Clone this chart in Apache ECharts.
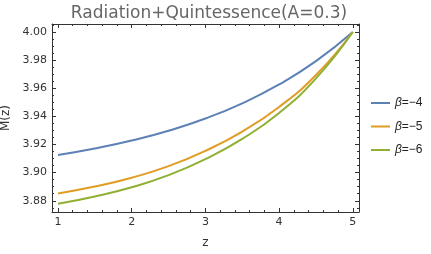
<!DOCTYPE html>
<html><head><meta charset="utf-8">
<script src="https://cdn.jsdelivr.net/npm/echarts@6/dist/echarts.min.js"></script>
<style>html,body{margin:0;padding:0;background:#fff}#c{width:431px;height:254px}</style>
</head><body><div id="c"></div>
<script>
const zValues = [1, 1.5, 2, 2.5, 3, 3.5, 4, 4.5, 5];
const beta4 = [3.9125, 3.9171, 3.9228, 3.9298, 3.9385, 3.9493, 3.9627, 3.9793, 4.0000];
const beta5 = [3.8852, 3.8901, 3.8964, 3.9046, 3.9155, 3.9292, 3.9467, 3.9694, 4.0000];
const beta6 = [3.8778, 3.8830, 3.8896, 3.8982, 3.9096, 3.9240, 3.9424, 3.9670, 4.0000];
const seriesNames = ['β=−4', 'β=−5', 'β=−6'];
const xMajor = [1, 2, 3, 4, 5];
const xMinor = [1.2,1.4,1.6,1.8,2.2,2.4,2.6,2.8,3.2,3.4,3.6,3.8,4.2,4.4,4.6,4.8];
const yMajor = [3.88, 3.90, 3.92, 3.94, 3.96, 3.98, 4.00];
const yMinor = [3.875,3.885,3.89,3.895,3.905,3.91,3.915,3.925,3.93,3.935,3.945,3.95,3.955,3.965,3.97,3.975,3.985,3.99,3.995,4.005];

const colors = ['#5E81B5', '#E19C24', '#8FB032'];
const X0 = 0.919, X1 = 5.084, Y0 = 3.872, Y1 = 4.0057;
const gridRect = {left: 52, right: 72, top: 24, bottom: 42, containLabel: false, outerBoundsMode: 'none'};
const font = 'DejaVu Sans';
function ax(type, gridIndex, pos, ticks, len, showLine, labels) {
  return {
    type: 'value', gridIndex, position: pos,
    min: type === 'x' ? X0 : Y0, max: type === 'x' ? X1 : Y1,
    splitLine: {show: false},
    axisLine: {show: showLine, onZero: false, lineStyle: {color: '#333', width: 1}},
    axisTick: {show: true, inside: true, length: len, customValues: ticks, lineStyle: {color: '#333', width: 1}},
    axisLabel: {show: !!labels, customValues: labels || ticks, color: '#333', fontFamily: font, fontSize: 11, margin: 5,
      formatter: v => type === 'x' ? String(Math.round(v)) : v.toFixed(2)}
  };
}
const chart = echarts.init(document.getElementById('c'), null, {renderer: 'canvas'});
const xAxes = [
  Object.assign(ax('x', 0, 'bottom', xMajor, 4, true, xMajor), {name: 'z', nameLocation: 'middle', nameGap: 25, nameTextStyle: {color: '#333', fontFamily: font, fontSize: 12}}),
  ax('x', 0, 'top', xMajor, 4, true, null),
  ax('x', 1, 'bottom', xMinor, 2, false, null),
  ax('x', 1, 'top', xMinor, 2, false, null)
];
const yAxes = [
  Object.assign(ax('y', 0, 'left', yMajor, 4, true, yMajor), {name: 'M(z)', nameLocation: 'middle', nameGap: 37, nameTextStyle: {color: '#333', fontFamily: font, fontSize: 12}}),
  ax('y', 0, 'right', yMajor, 4, true, null),
  ax('y', 1, 'left', yMinor, 2, false, null),
  ax('y', 1, 'right', yMinor, 2, false, null)
];
const vals = [beta4, beta5, beta6];
chart.setOption({
  animation: false,
  title: {text: 'Radiation+Quintessence(A=0.3)', left: 204, top: 0, textAlign: 'center',
    textStyle: {color: '#666', fontFamily: font, fontSize: 17, fontWeight: 'normal'}},
  grid: [Object.assign({}, gridRect), Object.assign({}, gridRect)],
  xAxis: xAxes, yAxis: yAxes,
  legend: {orient: 'vertical', left: 371, top: 97, padding: 0, itemWidth: 19, itemHeight: 2, itemGap: 11.5, icon: 'rect',
    formatter: n => '{i|β}' + n.slice(1),
    textStyle: {color: '#222', fontFamily: 'Liberation Sans', fontSize: 12,
      rich: {i: {fontStyle: 'italic', fontFamily: 'Liberation Sans', fontSize: 12, color: '#222'}}},
    data: seriesNames},
  series: vals.map((v, i) => ({
    name: seriesNames[i], type: 'line', xAxisIndex: 0, yAxisIndex: 0, smooth: 0.5, showSymbol: false,
    color: colors[i], lineStyle: {width: 2, color: colors[i]},
    data: zValues.map((z, k) => [z, v[k]])
  }))
});
</script></body></html>
